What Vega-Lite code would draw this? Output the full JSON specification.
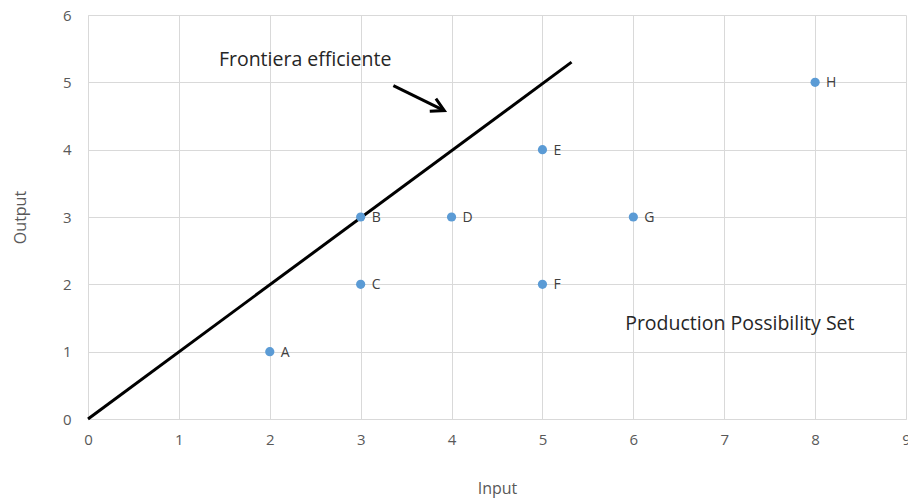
{
  "$schema": "https://vega.github.io/schema/vega-lite/v6.json",
  "autosize": {"type": "none"},
  "padding": {"left": 88, "top": 15, "right": 2, "bottom": 80},
  "width": 818,
  "height": 404,
  "background": "white",
  "config": {
    "view": {"stroke": null},
    "font": "Open Sans",
    "axis": {
      "gridColor": "#d9d9d9",
      "domainColor": "#d9d9d9",
      "ticks": false,
      "labelColor": "#595959",
      "labelFontSize": 15,
      "labelFont": "Open Sans",
      "labelFlush": false,
      "titleColor": "#595959",
      "titleFontSize": 16,
      "titleFont": "Open Sans",
      "titleFontWeight": "normal"
    }
  },
  "datasets": {
    "points": [
      {"input": 2, "output": 1, "label": "A"},
      {"input": 3, "output": 3, "label": "B"},
      {"input": 3, "output": 2, "label": "C"},
      {"input": 4, "output": 3, "label": "D"},
      {"input": 5, "output": 4, "label": "E"},
      {"input": 5, "output": 2, "label": "F"},
      {"input": 6, "output": 3, "label": "G"},
      {"input": 8, "output": 5, "label": "H"}
    ],
    "frontier": [
      {"input": 0, "output": 0},
      {"input": 5.32, "output": 5.3}
    ],
    "arrow": [
      {"input": 3.36, "output": 4.95},
      {"input": 3.92, "output": 4.58}
    ],
    "arrowhead": [
      {"input": 3.92, "output": 4.58}
    ],
    "notes": [
      {"input": 1.44, "output": 5.33, "text": "Frontiera efficiente"},
      {"input": 5.91, "output": 1.41, "text": "Production Possibility Set"}
    ]
  },
  "layer": [
    {
      "data": {"name": "frontier"},
      "mark": {"type": "line", "color": "black", "strokeWidth": 3, "clip": false},
      "encoding": {
        "x": {"field": "input", "type": "quantitative", "scale": {"domain": [0, 9]},
              "axis": {"values": [0,1,2,3,4,5,6,7,8,9], "format": "d", "title": "Input", "labelPadding": 13, "titlePadding": 33, "grid": true}},
        "y": {"field": "output", "type": "quantitative", "scale": {"domain": [0, 6]},
              "axis": {"values": [0,1,2,3,4,5,6], "format": "d", "title": "Output", "labelPadding": 17, "titlePadding": 34, "grid": true}}
      }
    },
    {
      "data": {"name": "arrow"},
      "mark": {"type": "line", "color": "black", "strokeWidth": 3},
      "encoding": {
        "x": {"field": "input", "type": "quantitative"},
        "y": {"field": "output", "type": "quantitative"}
      }
    },
    {
      "data": {"name": "arrowhead"},
      "mark": {"type": "point", "shape": "M-1,-0.55L0,0L-1,0.55", "filled": false, "stroke": "black", "strokeWidth": 3, "size": 650, "angle": 26, "opacity": 1},
      "encoding": {
        "x": {"field": "input", "type": "quantitative"},
        "y": {"field": "output", "type": "quantitative"}
      }
    },
    {
      "data": {"name": "points"},
      "mark": {"type": "circle", "color": "#5B9BD5", "size": 85, "opacity": 1},
      "encoding": {
        "x": {"field": "input", "type": "quantitative"},
        "y": {"field": "output", "type": "quantitative"}
      }
    },
    {
      "data": {"name": "points"},
      "mark": {"type": "text", "align": "left", "baseline": "middle", "dx": 11, "dy": 1, "fontSize": 14, "color": "#404040"},
      "encoding": {
        "x": {"field": "input", "type": "quantitative"},
        "y": {"field": "output", "type": "quantitative"},
        "text": {"field": "label"}
      }
    },
    {
      "data": {"name": "notes"},
      "mark": {"type": "text", "align": "left", "baseline": "middle", "fontSize": 19.5, "color": "#262626"},
      "encoding": {
        "x": {"field": "input", "type": "quantitative"},
        "y": {"field": "output", "type": "quantitative"},
        "text": {"field": "text"}
      }
    }
  ]
}
